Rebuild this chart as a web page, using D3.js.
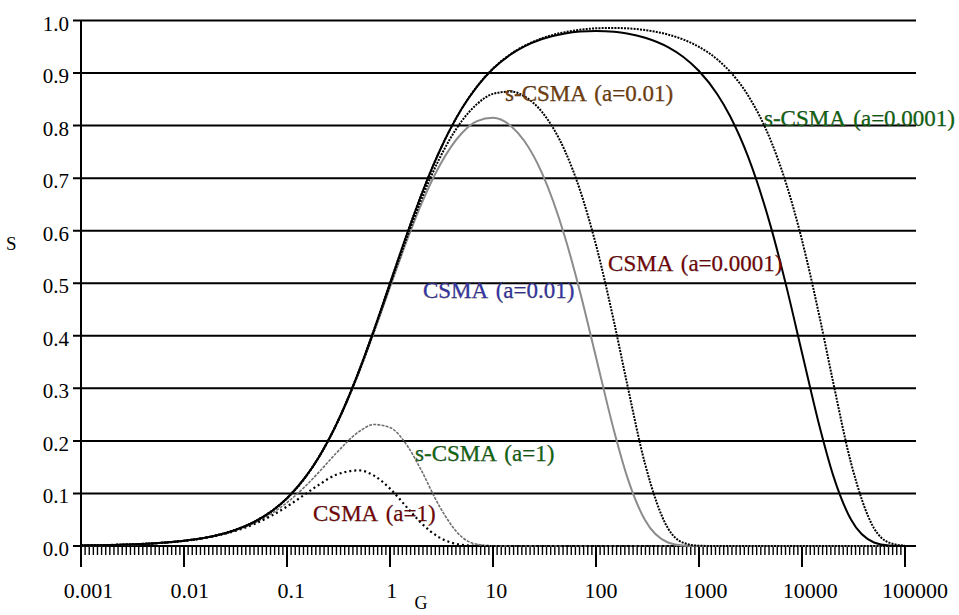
<!DOCTYPE html>
<html>
<head>
<meta charset="utf-8">
<script src="https://cdn.jsdelivr.net/npm/d3@7"></script>
<style>
  body { margin: 0; background: #fff; }
  svg { display: block; font-family: 'Times New Roman', Times, 'Liberation Serif', serif; }
</style>
</head>
<body>
<svg id="chart"></svg>
<script>
// offered load G (log axis)
const loads = [0.001, 0.0015, 0.002, 0.003, 0.005, 0.007, 0.01, 0.015, 0.02, 0.03, 0.05, 0.07,
  0.1, 0.15, 0.2, 0.3, 0.5, 0.7, 1, 1.5, 2, 3, 5, 7, 10, 15, 20, 30, 50, 70,
  100, 150, 200, 300, 500, 700, 1000, 1500, 2000, 3000, 5000, 7000,
  10000, 15000, 20000, 30000, 50000, 70000, 100000]

// throughput S
const csmaA1 = [0.000997, 0.001493, 0.001988, 0.002973, 0.004926, 0.006855, 0.009706, 0.014345, 0.018846, 0.027454, 0.043189, 0.057133,
  0.075101, 0.0985, 0.115417, 0.135447, 0.143965, 0.133872, 0.109232, 0.070863, 0.044117, 0.016504, 0.002245, 0.000304, 0.000015, 0, 0, 0, 0, 0,
  0, 0, 0, 0, 0, 0, 0, 0, 0, 0, 0, 0, 0, 0, 0, 0, 0, 0, 0]
const scsmaA1 = [0.000998, 0.001496, 0.001992, 0.002982, 0.00495, 0.006903, 0.009803, 0.01456, 0.019223, 0.028277, 0.045349, 0.061135,
  0.082621, 0.113321, 0.13862, 0.1765, 0.217634, 0.231213, 0.2254, 0.188362, 0.145158, 0.076587, 0.016902, 0.003193, 0.000227, 0.000002, 0, 0, 0, 0,
  0, 0, 0, 0, 0, 0, 0, 0, 0, 0, 0, 0, 0, 0, 0, 0, 0, 0, 0]
const csmaA001 = [0.000999, 0.001498, 0.001996, 0.002991, 0.004975, 0.00695, 0.009899, 0.014774, 0.0196, 0.029109, 0.047573, 0.065332,
  0.090736, 0.130069, 0.166057, 0.229548, 0.330564, 0.407209, 0.49255, 0.587516, 0.649093, 0.722344, 0.78598, 0.808528, 0.814815, 0.79889, 0.771705, 0.709125, 0.587649, 0.483482,
  0.35937, 0.218439, 0.132594, 0.048803, 0.006606, 0.000894, 0.000045, 0, 0, 0, 0, 0, 0, 0, 0, 0, 0, 0, 0]
const scsmaA001 = [0.000999, 0.001498, 0.001996, 0.002991, 0.004975, 0.006951, 0.0099, 0.014778, 0.019604, 0.029118, 0.047596, 0.065376,
  0.090823, 0.130252, 0.166361, 0.230149, 0.331932, 0.409462, 0.496261, 0.59372, 0.657827, 0.736033, 0.809277, 0.841009, 0.860418, 0.86479, 0.856094, 0.825634, 0.751645, 0.677052,
  0.572913, 0.425349, 0.309455, 0.15555, 0.03358, 0.006326, 0.00045, 0.000005, 0, 0, 0, 0, 0, 0, 0, 0, 0, 0, 0]
const csmaA00001 = [0.000999, 0.001498, 0.001996, 0.002991, 0.004975, 0.006951, 0.009901, 0.014778, 0.019608, 0.029126, 0.047619, 0.065421,
  0.090909, 0.130435, 0.166667, 0.230769, 0.333306, 0.411719, 0.499925, 0.599874, 0.666489, 0.749718, 0.832847, 0.874311, 0.9081, 0.936007, 0.950388, 0.964754, 0.975408, 0.978946,
  0.980149, 0.978494, 0.975238, 0.967124, 0.949234, 0.930968, 0.903839, 0.860043, 0.818232, 0.740487, 0.606336, 0.49645,
  0.3678, 0.223082, 0.135308, 0.049777, 0.006737, 0.000912, 0.000045]
const scsmaA00001 = [0.000999, 0.001498, 0.001996, 0.002991, 0.004975, 0.006951, 0.009901, 0.014778, 0.019608, 0.029126, 0.047619, 0.065421,
  0.090909, 0.130435, 0.166667, 0.230769, 0.33332, 0.411741, 0.499962, 0.599937, 0.666578, 0.749859, 0.83309, 0.874655, 0.908595, 0.936736, 0.951382, 0.966241, 0.977906, 0.982418,
  0.985111, 0.985892, 0.985066, 0.981753, 0.973213, 0.963989, 0.949835, 0.926209, 0.902833, 0.857157, 0.770556, 0.690369,
  0.581884, 0.43077, 0.313, 0.15717, 0.033915, 0.006388, 0.000454]

const xTicks = [0.001, 0.01, 0.1, 1, 10, 100, 1000, 10000, 100000]
const xTickLabels = ['0.001', '0.01', '0.1', '1', '10', '100', '1000', '10000', '100000']
const yTicks = [0, 0.1, 0.2, 0.3, 0.4, 0.5, 0.6, 0.7, 0.8, 0.9, 1.0]
const yTickLabels = ['0.0', '0.1', '0.2', '0.3', '0.4', '0.5', '0.6', '0.7', '0.8', '0.9', '1.0']

const width = 959
const height = 615
const svg = d3.select('#chart').attr('width', width).attr('height', height)

// SCALES
const x = d3.scaleLog().domain([0.001, 100000]).range([81, 905])
const y = d3.scaleLinear().domain([0, 1]).range([546, 20.5])

// GRID
svg.append('g').attr('class', 'grid')
  .selectAll('line')
  .data(yTicks)
  .enter()
  .append('line')
  .attr('x1', 73)
  .attr('x2', 916)
  .attr('y1', d => y(d))
  .attr('y2', d => y(d))
  .attr('stroke', '#000')
  .attr('stroke-width', 2)

// Y LABELS
svg.append('g')
  .selectAll('text')
  .data(yTicks)
  .enter()
  .append('text')
  .attr('x', 69)
  .attr('y', d => y(d) + 10)
  .attr('text-anchor', 'end')
  .attr('font-size', 21)
  .text((d, i) => yTickLabels[i])

// X AXIS: minor ticks evenly spaced in log space
const minor = d3.range(0, 8 * 25 + 1).map(i => Math.pow(10, -3 + i / 25))
svg.append('g')
  .selectAll('line')
  .data(minor)
  .enter()
  .append('line')
  .attr('x1', d => x(d))
  .attr('x2', d => x(d))
  .attr('y1', y(0))
  .attr('y2', y(0) + 9)
  .attr('stroke', '#000')
  .attr('stroke-width', 1.4)

svg.append('g')
  .selectAll('line')
  .data(xTicks)
  .enter()
  .append('line')
  .attr('x1', d => x(d))
  .attr('x2', d => x(d))
  .attr('y1', y(0))
  .attr('y2', y(0) + 21)
  .attr('stroke', '#000')
  .attr('stroke-width', 2)

svg.append('line')
  .attr('x1', x(0.001)).attr('x2', x(0.001))
  .attr('y1', y(1)).attr('y2', y(0) + 21)
  .attr('stroke', '#000').attr('stroke-width', 2)

svg.append('g')
  .selectAll('text')
  .data(xTicks)
  .enter()
  .append('text')
  .attr('y', 598)
  .attr('font-size', 22)
  .attr('text-anchor', 'middle')
  .text((d, i) => xTickLabels[i])
  .attr('x', function (d) { return x(d) + this.getComputedTextLength() * 0.15 })

// AXIS TITLES
svg.append('text').attr('x', 6).attr('y', 250).attr('font-size', 19).text('S')
svg.append('text').attr('x', 421).attr('y', 609).attr('font-size', 18)
  .attr('text-anchor', 'middle').text('G')

// CURVES
const series = [
  { values: scsmaA1, stroke: '#6e6e6e', width: 1.6, dash: '3,1.2' },
  { values: csmaA1, stroke: '#000', width: 2.2, dash: '2,3' },
  { values: csmaA001, stroke: '#8c8c8c', width: 2, dash: null },
  { values: scsmaA001, stroke: '#000', width: 2, dash: '2,1.2' },
  { values: csmaA00001, stroke: '#000', width: 2, dash: null },
  { values: scsmaA00001, stroke: '#000', width: 2, dash: '2,1.2' }
]

const line = d3.line()
  .x(d => x(d[0]))
  .y(d => y(d[1]))
  .curve(d3.curveMonotoneX)

svg.append('g').attr('class', 'curves')
  .selectAll('path')
  .data(series)
  .enter()
  .append('path')
  .attr('d', s => line(loads.map((g, i) => [g, s.values[i]])))
  .attr('fill', 'none')
  .attr('stroke', s => s.stroke)
  .attr('stroke-width', s => s.width)
  .attr('stroke-dasharray', s => s.dash)

// LABELS
const labels = [
  { text: 's-CSMA (a=0.01)', g: 13.1, s: 0.847, color: '#7a3e05' },
  { text: 's-CSMA (a=0.0001)', g: 4276, s: 0.799, color: '#0b6b0b' },
  { text: 'CSMA (a=0.0001)', g: 131, s: 0.523, color: '#7d0000' },
  { text: 'CSMA (a=0.01)', g: 2.09, s: 0.472, color: '#3535b0' },
  { text: 's-CSMA (a=1)', g: 1.75, s: 0.162, color: '#0b6b0b' },
  { text: 'CSMA (a=1)', g: 0.179, s: 0.048, color: '#7d0000' }
]
svg.append('g')
  .selectAll('text')
  .data(labels)
  .enter()
  .append('text')
  .attr('x', d => x(d.g))
  .attr('y', d => y(d.s))
  .attr('font-size', 23)
  .attr('fill', d => d.color)
  .attr('stroke', '#222')
  .attr('stroke-width', 0.25)
  .attr('word-spacing', 3)
  .text(d => d.text)
</script>
</body>
</html>
